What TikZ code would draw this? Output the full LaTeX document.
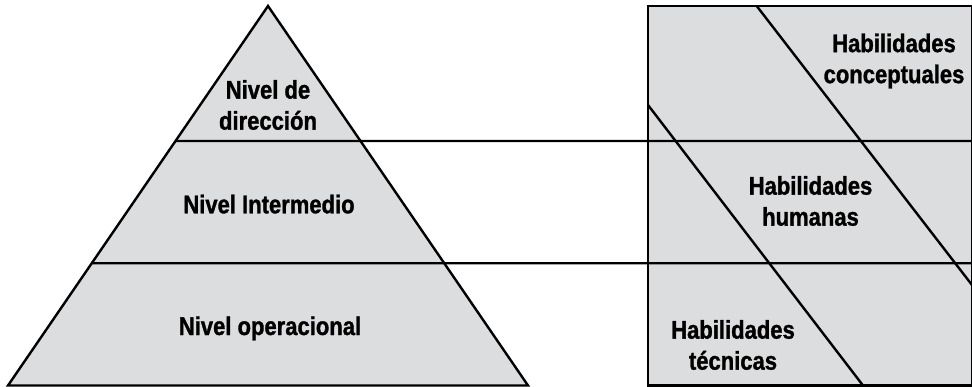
\documentclass[tikz,border=0pt]{standalone}
\usepackage{fontspec}
\setmainfont{Liberation Sans}[FakeStretch=0.86,BoldFeatures={FakeBold=1.2}]
\usetikzlibrary{calc}
\definecolor{boxgray}{RGB}{220,221,223}
\begin{document}
\begin{tikzpicture}[x=1pt,y=-1pt,
  edge/.style={draw=black,line width=2.4pt},
  lbl/.style={font=\fontsize{25.6}{31}\selectfont\bfseries,align=center,inner sep=0pt,text=black}]
\useasboundingbox (0,0) rectangle (972,387);
% pyramid
\coordinate (apex) at (268,6);
\coordinate (bl) at (8,385.5);
\coordinate (br) at (528,385.5);
\fill[boxgray] (apex) -- (bl) -- (br) -- cycle;
% box
\coordinate (boxtl) at (648,6);
\coordinate (boxbr) at (972,385.5);
\fill[boxgray] (boxtl) rectangle (boxbr);
% horizontal dividers
\coordinate (h1l) at ($(apex)!{135/379.5}!(bl)$);
\coordinate (h1r) at (972,141);
\coordinate (h2l) at ($(apex)!{257.3/379.5}!(bl)$);
\coordinate (h2r) at (972,263.3);
\draw[edge] (h1l) -- (h1r);
\draw[edge] (h2l) -- (h2r);
% diagonals
\coordinate (d1a) at (756.7,6);
\coordinate (d1b) at (972,285);
\coordinate (d2a) at (648,105);
\coordinate (d2b) at (863,385.5);
\draw[edge] (d1a) -- (d1b);
\draw[edge] (d2a) -- (d2b);
% outlines
\draw[edge,line join=miter] (apex) -- (bl) -- (br) -- cycle;
\draw[edge] (boxtl) rectangle (boxbr);
% labels
\node[lbl] (dir) at (268,105) {Nivel de\\direcci\'on};
\node[lbl,anchor=base] (int) at (269,213.3) {Nivel Intermedio};
\node[lbl,anchor=base] (ope) at (270,335) {Nivel operacional};
\node[lbl] (con) at (894,61) {Habilidades\\conceptuales};
\node[lbl] (hum) at (810.5,201) {Habilidades\\humanas};
\node[lbl] (tec) at (733,345) {Habilidades\\t\'ecnicas};
\end{tikzpicture}
\end{document}
